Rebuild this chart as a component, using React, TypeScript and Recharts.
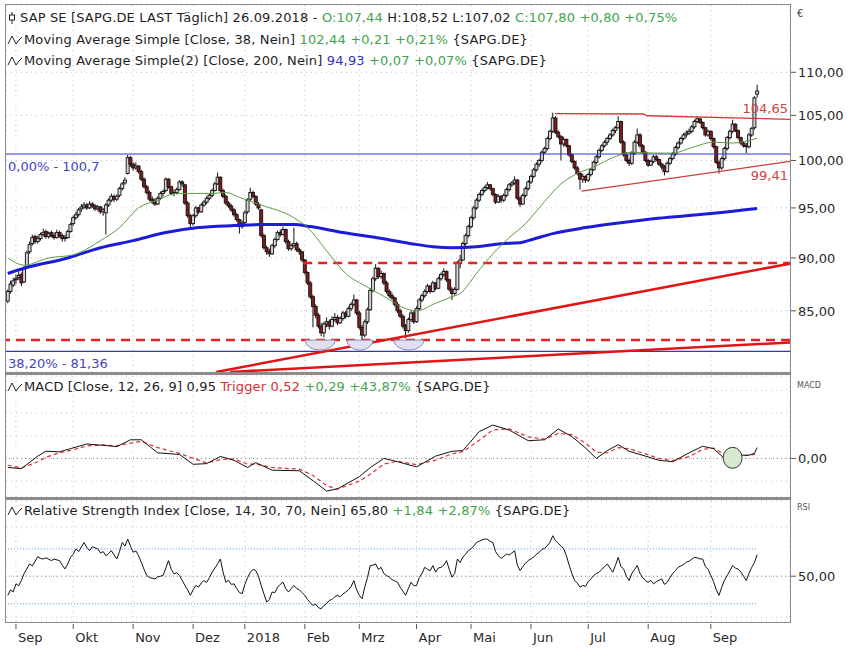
import React from "react";
import {
  ComposedChart,
  Bar,
  Line,
  XAxis,
  YAxis,
  CartesianGrid,
  ReferenceLine,
  ReferenceDot,
} from "recharts";

// daily candles [open, high, low, close], one array per month
const aug17 = [[85.9,87.0,85.7,86.8],[86.8,87.8,86.6,87.5],[87.4,88.1,87.2,87.8]];
const sep17 = [[87.9,88.4,87.5,88.0],[88.1,88.7,87.9,88.3],[88.4,88.6,87.3,87.6],[87.7,89.2,87.6,89.0],[89.1,90.7,89.0,90.5],[90.6,91.6,90.4,91.3],[91.4,92.3,91.2,92.0],[92.1,92.3,91.4,91.6],[91.6,92.2,91.4,91.9],[91.9,92.5,91.7,92.3],[92.3,92.9,92.1,92.5],[92.6,92.8,91.9,92.1],[92.1,92.6,91.9,92.4],[92.5,92.7,92.0,92.2],[92.2,92.5,91.8,92.0],[92.0,92.8,91.9,92.5],[92.5,92.7,92.0,92.2],[92.2,92.4,91.6,91.9],[91.9,92.3,91.6,92.0],[92.0,92.8,91.9,92.6],[92.6,93.5,92.5,93.3]];
const oct17 = [[93.4,94.2,93.2,94.0],[94.0,94.6,93.8,94.3],[94.3,95.0,94.1,94.8],[94.9,95.4,94.6,95.1],[95.1,95.6,94.9,95.3],[95.3,95.5,94.8,95.0],[95.0,95.7,94.9,95.4],[95.4,95.6,95.0,95.2],[95.2,95.4,94.7,94.9],[94.9,95.3,94.7,95.1],[95.1,95.2,94.4,94.6],[94.6,95.0,94.2,94.8],[94.5,95.5,92.3,95.3],[95.3,96.0,95.1,95.8],[95.8,96.5,95.6,96.2],[96.2,96.4,95.6,95.9],[95.9,96.4,95.7,96.2],[96.3,97.2,96.1,97.0],[97.0,97.7,96.8,97.5],[97.6,98.2,97.4,97.9],[98.6,100.6,98.5,100.3],[100.3,100.5,99.3,99.6]];
const nov17 = [[99.6,99.8,98.9,99.2],[99.2,99.8,99.0,99.4],[99.4,99.5,98.6,98.8],[98.8,99.0,97.8,98.0],[98.0,98.2,97.0,97.2],[97.2,97.4,96.4,96.6],[96.6,96.8,95.7,95.9],[95.9,96.2,95.4,95.7],[95.7,96.0,95.2,95.4],[95.4,96.2,95.3,96.0],[96.0,96.7,95.8,96.5],[96.5,96.9,96.2,96.7],[96.8,98.2,96.6,98.0],[98.0,98.1,97.0,97.2],[97.2,97.3,96.3,96.5],[96.5,96.9,96.2,96.6],[96.6,97.1,96.4,96.9],[96.9,97.9,96.8,97.7],[97.7,97.9,97.2,97.5],[97.4,97.5,95.3,95.5],[95.5,95.7,94.0,94.2],[94.2,94.4,92.9,93.4]];
const dec17 = [[93.4,94.4,93.2,94.2],[94.2,95.2,94.0,95.0],[95.0,95.1,94.4,94.6],[94.6,95.5,94.5,95.3],[95.3,95.8,95.1,95.6],[95.6,96.2,95.4,96.0],[96.0,96.5,95.8,96.3],[96.3,97.0,96.1,96.8],[96.8,97.7,96.7,97.5],[97.5,98.7,97.4,98.2],[98.2,98.3,96.6,96.8],[96.8,97.0,96.0,96.2],[96.2,96.4,95.3,95.5],[95.5,95.7,95.0,95.2],[95.2,95.4,94.6,94.8],[94.8,95.0,94.1,94.3],[94.3,94.5,93.6,93.8],[93.8,93.9,92.4,93.1],[93.1,93.7,92.9,93.4]];
const jan18 = [[93.5,94.7,93.3,94.5],[94.6,96.0,94.4,95.8],[95.9,97.1,95.7,96.6],[96.6,96.8,96.0,96.2],[96.2,96.3,95.2,95.4],[95.4,95.6,94.8,95.0],[94.8,94.9,92.0,92.2],[92.2,92.4,90.8,91.0],[91.0,91.2,90.3,90.6],[90.6,90.9,90.1,90.4],[90.4,91.4,90.3,91.2],[91.2,92.0,91.0,91.8],[91.8,92.7,91.7,92.5],[92.5,92.8,92.1,92.3],[92.3,93.1,92.2,92.8],[92.8,92.9,91.4,91.6],[91.6,91.8,90.7,90.9],[90.9,91.4,90.7,91.2],[91.2,93.0,91.0,91.4],[91.4,91.6,90.6,90.8],[90.8,91.0,90.3,90.6],[90.6,90.7,89.6,89.8]];
const feb18 = [[89.8,89.9,88.4,88.6],[88.6,88.7,87.4,87.6],[87.6,87.8,86.1,86.3],[86.3,86.5,83.5,85.4],[85.4,85.6,84.3,84.6],[84.6,84.8,83.4,83.6],[83.6,83.9,82.7,83.0],[83.0,84.0,82.6,83.8],[83.8,84.4,83.5,84.0],[84.0,84.2,83.3,83.6],[83.6,84.5,83.5,84.2],[84.2,84.8,84.0,84.4],[84.4,84.6,83.7,83.9],[83.9,84.5,83.8,84.3],[84.3,85.0,84.1,84.8],[84.8,85.0,84.3,84.5],[84.5,85.4,84.4,85.2],[85.2,85.8,85.0,85.6],[85.6,86.5,85.4,86.0],[86.0,86.1,84.6,84.8]];
const mar18 = [[84.8,85.0,83.3,83.5],[83.5,83.7,82.2,82.8],[82.8,84.2,82.6,84.0],[84.0,85.3,83.8,85.1],[85.1,87.1,85.0,86.9],[86.9,88.2,86.7,88.0],[88.0,89.4,87.8,89.0],[89.0,89.1,88.0,88.2],[88.2,88.8,88.0,88.5],[88.5,88.6,87.4,87.6],[87.6,87.8,86.6,86.8],[86.8,87.0,86.2,86.4],[86.4,86.7,86.0,86.2],[86.2,86.3,85.4,85.6],[85.6,85.8,84.8,85.0],[85.0,85.2,84.3,84.5],[84.5,84.7,83.4,83.6],[83.6,83.8,82.5,83.2],[83.2,84.4,83.0,84.2],[84.2,85.0,84.0,84.8],[84.8,85.0,83.8,84.0]];
const apr18 = [[84.0,85.4,83.9,85.2],[85.2,86.2,85.0,86.0],[86.0,86.6,85.8,86.4],[86.4,87.0,86.2,86.8],[86.8,87.5,86.6,87.3],[87.3,87.4,86.6,86.8],[86.8,87.8,86.7,87.6],[87.6,87.7,86.9,87.1],[87.1,88.2,87.0,88.0],[88.0,88.6,87.8,88.4],[88.4,89.0,88.2,88.7],[88.7,88.8,87.7,87.9],[87.9,88.0,86.8,87.0],[87.0,87.2,86.0,86.6],[86.6,87.2,86.4,87.0],[87.0,89.7,86.9,89.5],[89.5,90.3,89.0,89.8],[89.8,91.6,89.7,91.4],[91.4,92.4,91.2,92.2],[92.2,93.3,92.0,93.1]];
const may18 = [[93.1,94.2,92.9,94.0],[94.0,95.2,93.8,95.0],[95.0,96.0,94.8,95.8],[95.8,96.6,95.6,96.4],[96.4,97.0,96.2,96.8],[96.8,97.3,96.6,97.1],[97.1,97.7,96.9,97.4],[97.4,97.5,96.8,97.0],[97.0,97.1,96.2,96.4],[96.4,96.5,95.4,95.6],[95.6,96.4,95.5,96.2],[96.2,96.3,95.5,95.8],[95.8,96.5,95.6,96.3],[96.3,97.1,96.1,96.9],[96.9,97.6,96.7,97.4],[97.4,97.8,97.2,97.6],[97.6,98.3,97.4,97.9],[97.9,98.0,95.8,96.0],[96.0,96.2,95.1,95.4],[95.4,96.5,95.3,96.3],[96.3,97.2,96.1,97.0],[97.0,97.9,96.8,97.7]];
const jun18 = [[97.7,98.5,97.5,98.3],[98.3,99.2,98.1,99.0],[99.0,99.8,98.8,99.6],[99.6,100.2,99.3,100.0],[100.0,101.1,99.8,100.9],[100.9,101.5,100.7,101.3],[101.3,102.6,101.1,102.4],[102.4,103.4,102.2,103.2],[103.2,105.3,103.0,104.7],[104.7,104.9,102.9,103.1],[103.1,103.3,102.4,102.6],[102.6,102.8,100.0,101.8],[101.8,102.6,101.5,102.3],[102.3,102.4,101.4,101.6],[101.6,101.7,100.4,100.6],[100.6,100.8,99.7,99.9],[99.9,100.0,99.0,99.2],[99.2,99.4,98.4,98.6],[98.6,98.8,96.9,98.0],[98.0,98.6,97.6,98.3],[98.3,98.4,97.6,97.9]];
const jul18 = [[97.9,98.7,97.7,98.5],[98.5,99.2,98.3,99.0],[99.0,100.0,98.9,99.8],[99.8,100.6,99.6,100.4],[100.4,101.3,100.2,101.1],[101.1,101.8,100.9,101.6],[101.6,102.2,101.4,102.0],[102.0,102.6,101.7,102.4],[102.4,103.0,102.2,102.8],[102.8,103.5,102.6,103.3],[103.3,103.8,103.0,103.6],[103.6,104.9,103.5,104.3],[104.3,104.4,101.8,102.0],[102.0,102.2,100.4,100.6],[100.6,100.9,99.8,100.0],[100.0,100.2,99.4,99.7],[99.7,101.0,99.5,100.8],[100.8,102.2,100.6,102.0],[102.0,103.5,101.8,102.8],[102.8,103.0,101.4,101.6],[101.6,101.8,100.7,100.9],[100.9,101.0,99.8,100.0]];
const aug18 = [[100.0,100.2,99.3,99.5],[99.5,100.1,99.4,99.9],[99.9,100.6,99.7,100.4],[100.4,100.6,99.9,100.1],[100.1,100.2,99.4,99.6],[99.6,99.8,99.0,99.3],[99.3,99.5,98.4,98.8],[98.8,99.9,98.7,99.7],[99.7,100.4,99.5,100.2],[100.2,100.9,100.0,100.7],[100.7,101.6,100.5,101.4],[101.4,102.1,101.2,101.9],[101.9,102.6,101.7,102.4],[102.4,103.0,102.2,102.8],[102.8,103.3,102.5,103.0],[103.0,103.5,102.8,103.2],[103.2,103.9,103.0,103.7],[103.7,104.5,103.5,104.3],[104.3,104.9,104.1,104.6],[104.6,104.7,104.0,104.2],[104.2,104.3,103.4,103.6],[103.6,103.7,102.6,102.8],[102.8,103.4,102.6,103.2]];
const sep18 = [[103.2,103.3,102.2,102.4],[102.4,102.5,101.3,101.5],[101.5,101.6,99.6,99.8],[99.8,100.0,98.6,99.2],[99.2,100.4,99.0,100.2],[100.2,101.5,100.0,101.3],[101.3,102.7,101.1,102.5],[102.5,103.4,102.3,103.2],[103.2,104.5,103.0,104.0],[104.0,104.1,103.1,103.3],[103.3,103.4,102.3,102.5],[102.5,102.6,101.7,101.9],[101.9,102.1,101.4,101.6],[101.6,101.9,100.8,101.5],[101.5,103.0,101.3,102.8],[102.8,103.7,102.6,103.5],[103.6,107.2,103.4,107.0],[107.44,108.52,107.02,107.8]];

const candleMonths = [aug17, sep17, oct17, nov17, dec17, jan18, feb18, mar18, apr18, may18, jun18, jul18, aug18, sep18];
const monthLabels = ["Sep", "Okt", "Nov", "Dez", "2018", "Feb", "Mrz", "Apr", "Mai", "Jun", "Jul", "Aug", "Sep"];

// [day index, value]
const ma38 = [[0,90.0],[6,89.3],[15,90.0],[24,90.3],[34,91.7],[41,93.0],[48,95.0],[55,95.8],[62,96.5],[66,96.5],[75,96.5],[80,96.6],[85,96.1],[93,95.3],[105,94.0],[110,93.0],[117,90.7],[124,88.5],[132,87.2],[139,86.2],[145,85.3],[150,85.0],[157,85.7],[163,86.3],[166,86.6],[172,88.5],[178,90.4],[184,92.0],[190,93.4],[195,95.0],[203,97.5],[209,98.6],[215,99.3],[222,100.3],[229,100.9],[237,100.8],[244,100.8],[251,101.4],[259,102.0],[266,101.9],[275,102.44]];
const ma200 = [[0,88.5],[6,89.0],[22,90.0],[34,91.0],[46,91.7],[58,92.5],[70,93.0],[83,93.2],[93,93.3],[105,93.3],[111,93.1],[123,92.5],[135,92.0],[148,91.4],[156,91.1],[163,91.0],[172,91.1],[181,91.4],[188,91.5],[191,91.7],[200,92.4],[212,93.0],[225,93.5],[237,93.9],[249,94.2],[261,94.5],[275,94.93]];

const macd = [[0,-0.8],[5,-0.9],[11,0.2],[14,0.63],[19,0.58],[23,0.86],[29,1.27],[35,1.15],[40,1.04],[45,1.64],[49,1.64],[55,0.49],[63,0.35],[68,-0.52],[73,-0.46],[78,0.17],[83,-0.17],[88,-0.8],[91,-0.37],[97,-1.04],[107,-1.09],[112,-1.96],[117,-2.88],[121,-2.68],[129,-1.61],[133,-0.81],[138,0],[143,-0.29],[150,-0.75],[157,0.2],[163,0.63],[167,0.69],[173,2.36],[178,2.94],[184,2.5],[191,1.56],[197,1.64],[202,2.59],[207,1.93],[212,0.92],[216,0],[220,0.69],[224,1.21],[228,0.63],[234,0.2],[239,-0.17],[244,-0.29],[250,0.49],[255,1.07],[259,0.86],[263,0],[268,0.29],[272,0.28],[274,0.45],[275,0.95]];
const trigger = [[0,-0.6],[5,-0.85],[11,-0.3],[14,0.1],[19,0.5],[23,0.7],[29,1.1],[35,1.2],[40,1.1],[45,1.35],[49,1.5],[55,0.95],[63,0.45],[68,0.0],[73,-0.4],[78,-0.1],[83,-0.05],[88,-0.5],[91,-0.5],[97,-0.8],[107,-0.95],[112,-1.5],[117,-2.4],[121,-2.7],[129,-2.0],[133,-1.4],[138,-0.5],[143,-0.25],[150,-0.55],[157,-0.15],[163,0.4],[167,0.6],[173,1.6],[178,2.5],[184,2.6],[191,1.9],[197,1.7],[202,2.2],[207,2.1],[212,1.35],[216,0.55],[220,0.5],[224,0.95],[228,0.85],[234,0.4],[239,0.0],[244,-0.2],[250,0.15],[255,0.8],[259,0.9],[263,0.35],[268,0.2],[272,0.28],[274,0.35],[275,0.52]];

const rsi = [[0,36],[1,40],[2,38.5],[3,44.4],[4,43],[5,47],[6,52],[8,59],[9,57.5],[11,64.3],[12,63],[13,62.6],[14,63.5],[16,61.4],[17,62.5],[19,61.4],[20,58],[21,55.3],[22,59],[23,63.8],[24,66],[25,70],[26,68],[28,74.7],[29,71],[30,68.7],[31,71.5],[33,70],[34,67],[35,68],[36,65],[37,66.5],[38,68.7],[39,65.5],[40,62.6],[41,68],[42,74.7],[43,72],[44,77.2],[45,72],[46,67.5],[47,68.5],[48,65],[49,60],[50,55],[51,50.5],[52,49],[53,48.5],[54,48],[55,49.5],[56,50],[57,50.5],[58,56],[59,61.4],[60,55],[61,51.7],[62,52.5],[63,50.5],[64,47],[65,43.2],[66,40],[67,36],[68,40],[69,43.2],[70,42],[71,45],[72,46.8],[73,45.5],[74,49],[75,52.9],[76,56],[77,59],[78,62.6],[79,53],[80,45.6],[81,47],[82,44],[83,44.4],[84,41],[85,38],[86,37.2],[87,44],[88,49],[89,52.9],[90,55],[91,54.1],[92,50],[93,43.2],[94,37],[95,31.1],[96,33],[97,38.4],[98,38],[99,42],[100,44],[101,45.6],[102,41],[103,38.4],[104,41],[105,43.2],[106,41],[107,40],[108,38],[109,36],[110,33],[111,30.5],[112,28.7],[113,29.5],[114,27],[115,26.2],[116,28.5],[117,30],[118,32.3],[119,33],[120,35],[121,36],[122,35],[123,37],[124,38.4],[125,40],[126,42.5],[127,46.8],[128,40],[129,36],[130,33.5],[131,42],[132,49],[133,57.8],[134,58],[135,59],[136,55],[137,56.5],[138,52],[139,50.5],[140,49.3],[141,47.5],[142,46.5],[143,45.6],[144,42],[145,39],[146,36],[147,41],[148,45.6],[149,43],[150,43.2],[151,49],[152,52],[153,56.5],[154,55],[155,54],[156,57.8],[157,53],[158,56],[159,56.5],[160,58],[161,61.4],[162,55],[163,49.3],[164,52],[165,62.6],[166,60],[167,64],[168,66],[169,68.7],[170,70],[171,72],[172,74.7],[173,75.5],[174,76.5],[175,77.2],[176,77],[177,75.5],[178,74.7],[179,68],[180,65],[181,63],[182,64.5],[183,66.2],[184,65.5],[185,67],[186,68.7],[187,58],[188,54.1],[189,57],[190,59.5],[191,61.5],[192,62.6],[193,64],[194,66],[195,67.5],[196,69.5],[197,70.5],[198,72.3],[199,75],[200,79.6],[201,76],[202,74],[203,72.3],[204,70],[205,65],[206,58],[207,52],[208,46.8],[209,45],[210,42],[211,43.2],[212,42.5],[213,46],[214,48],[215,50.5],[216,52],[217,52.9],[218,55],[219,57],[220,59],[221,56],[222,52.9],[223,58],[224,63.8],[225,57],[226,55.3],[227,50],[228,46.8],[229,52],[230,55],[231,57.8],[232,52],[233,49],[234,46.8],[235,45.5],[236,47],[237,44.4],[238,46],[239,47],[240,48],[241,44],[242,45.6],[243,49],[244,52],[245,54],[246,56.5],[247,57.5],[248,58.5],[249,60.2],[250,61],[251,62.5],[252,63.8],[253,63.5],[254,62.6],[255,62.6],[256,57],[257,55],[258,50.5],[259,46],[260,40],[261,36],[262,42],[263,47],[264,50.5],[265,54],[266,57.8],[267,56],[268,55.3],[269,53],[270,50],[271,46.8],[272,52],[273,56.5],[274,60],[275,65.8]];

// drawn lines: [day index, price]
const fibHigh = 100.7;
const fibLow = 81.36;
const supportDashLow = 82.35;
const supportDashHigh = [[108.4, 89.5], [287.05, 89.5]];
const trendUpper = [[76.4, 79.56], [287.05, 89.45]];
const trendLower = [[81.5, 79.56], [287.05, 82.14]];
const resistance = [[200.8, 105.2], [233.3, 105.15], [234.5, 104.95], [287.05, 104.55]];
const support = [[210.5, 96.75], [287.05, 99.9]];
const bottoms = [[114.6, 82.35], [129.2, 82.35], [147.2, 82.35]];
const macdMark = [266, 0.05];

const X_DOMAIN: [number, number] = [-0.66, 287.05];
const FONT = "'DejaVu Sans', Verdana, sans-serif";
const FS = 13;
const GREEN = "#3fa34d";
const GRID = "#c4c4c4";

const candles = candleMonths.flat().map(([o, h, l, c], i) => ({ i, o, h, l, c }));
const monthTicks: number[] = [];
candleMonths.reduce((start, m, k) => {
  if (k > 0) monthTicks.push(start);
  return start + m.length;
}, 0);

const pts = (arr: number[][]) => arr.map(([i, v]) => ({ i, v }));
const fmt = (v: number) => v.toFixed(2).replace(".", ",");

function Candle(props: any) {
  const { x, y, width, height, payload } = props;
  if (x == null || !payload) return null;
  const { o, h, l, c } = payload;
  const top = Math.min(y, y + height);
  const hh = Math.abs(height);
  const cx = x + width / 2;
  const span = Math.log(h) - Math.log(l);
  const py = (v: number) => (span > 0 ? top + (hh * (Math.log(h) - Math.log(v))) / span : top);
  const up = c >= o;
  const bTop = py(Math.max(o, c));
  const bBot = py(Math.min(o, c));
  return (
    <g>
      <line x1={cx} x2={cx} y1={top} y2={top + hh} stroke="#111" strokeWidth={1} />
      <rect
        x={cx - 1.5}
        y={bTop}
        width={3}
        height={Math.max(bBot - bTop, 1)}
        fill={up ? "#d4d4d4" : "#861a1a"}
        stroke="#111"
        strokeWidth={0.9}
      />
    </g>
  );
}

function YTick({ x, y, payload, labels }: any) {
  if (labels && !labels.includes(payload.value)) return null;
  return (
    <g>
      <line x1={x + 1} x2={x + 6} y1={y} y2={y} stroke="#555" />
      <text x={x + 8} y={y + 5} fontSize={FS} fontFamily={FONT} fill="#2a2a2a">
        {fmt(payload.value)}
      </text>
    </g>
  );
}

function MonthTick({ x, y, payload }: any) {
  const label = monthLabels[monthTicks.indexOf(payload.value)];
  return (
    <g>
      <line x1={x} x2={x} y1={y + 2} y2={y + 7} stroke="#555" />
      <text x={x + 2} y={y + 20} fontSize={FS} fontFamily={FONT} fill="#2a2a2a">
        {label}
      </text>
    </g>
  );
}

const halfEllipse = (rx: number) => (p: any) => (
  <path
    d={`M${p.cx - rx},${p.cy} A${rx},10 0 0 0 ${p.cx + rx},${p.cy} Z`}
    fill="#dfe1f3"
    stroke="#8c8cb0"
    strokeWidth={1}
  />
);

const textAt = (txt: string, color: string, dx: number, dy: number, anchor: "start" | "end") => (p: any) => (
  <text x={p.cx + dx} y={p.cy + dy} textAnchor={anchor} fontSize={FS} fontFamily={FONT} fill={color}>
    {txt}
  </text>
);

function CandleIcon() {
  return (
    <svg width={10} height={14} style={{ marginRight: 3 }}>
      <line x1={5} x2={5} y1={1} y2={13} stroke="#222" />
      <rect x={2.5} y={4} width={5} height={5} fill="#fff" stroke="#222" />
    </svg>
  );
}

function WaveIcon() {
  return (
    <svg width={16} height={12} style={{ marginRight: 1 }}>
      <polyline points="1,10 5,2 9,10 12,6 15,3" fill="none" stroke="#222" strokeWidth={1} />
    </svg>
  );
}

function Row({ top, icon, children }: { top: number; icon: React.ReactNode; children: React.ReactNode }) {
  return (
    <div
      style={{
        position: "absolute",
        left: 7,
        top,
        height: 16,
        lineHeight: "16px",
        fontSize: FS,
        letterSpacing: 0.15,
        fontFamily: FONT,
        color: "#1e1e1e",
        whiteSpace: "nowrap",
        display: "flex",
        alignItems: "center",
      }}
    >
      {icon}
      <span>{children}</span>
    </div>
  );
}

const G = ({ children }: { children: React.ReactNode }) => <span style={{ color: GREEN }}>{children}</span>;

const paneBox = (top: number, height: number): React.CSSProperties => ({
  position: "absolute",
  left: 5,
  top,
  width: 786,
  height,
  boxSizing: "border-box",
  border: "1px solid #8c8c8c",
  pointerEvents: "none",
});

export default function App() {
  return (
    <div style={{ position: "absolute", left: 0, top: 0, width: 850, height: 661, background: "#fff", overflow: "hidden" }}>
      {/* price pane */}
      <div style={{ position: "absolute", left: 0, top: 0 }}>
        <ComposedChart width={850} height={373} data={candles} margin={{ top: 5, right: 0, bottom: 1, left: 6 }}>
          <CartesianGrid stroke={GRID} strokeDasharray="1 4" />
          <XAxis dataKey="i" type="number" domain={X_DOMAIN} ticks={monthTicks} allowDataOverflow hide />
          <YAxis
            orientation="right"
            width={60}
            scale="log"
            domain={[79.56, 118.3]}
            allowDataOverflow
            ticks={[85, 90, 95, 100, 105, 110]}
            interval={0}
            axisLine={false}
            tickLine={false}
            tickSize={0}
            tickMargin={0}
            tick={<YTick />}
          />
          <ReferenceLine y={fibHigh} stroke="#3434cc" strokeWidth={1.2} />
          <ReferenceLine y={fibLow} stroke="#3434cc" strokeWidth={1.2} />
          <ReferenceLine y={supportDashLow} stroke="#e32222" strokeWidth={2.5} strokeDasharray="9 6" />
          <Line data={pts(supportDashHigh)} dataKey="v" stroke="#e32222" strokeWidth={2.5} strokeDasharray="9 6" dot={false} isAnimationActive={false} />
          <Line data={pts(trendUpper)} dataKey="v" stroke="#e01616" strokeWidth={2.5} dot={false} isAnimationActive={false} />
          <Line data={pts(trendLower)} dataKey="v" stroke="#e01616" strokeWidth={2.5} dot={false} isAnimationActive={false} />
          {bottoms.map(([i, v], k) => (
            <ReferenceDot key={k} x={i} y={v} r={1} ifOverflow="visible" shape={halfEllipse(k === 1 ? 13 : 15)} />
          ))}
          <Line data={pts(ma200)} dataKey="v" type="monotone" stroke="#1c1cd8" strokeWidth={3} dot={false} isAnimationActive={false} />
          <Line data={pts(ma38)} dataKey="v" type="monotone" stroke="#5d9c45" strokeWidth={1} dot={false} isAnimationActive={false} />
          <Bar dataKey={(d: any) => [d.l, d.h]} barSize={3} shape={<Candle />} isAnimationActive={false} />
          <Line data={pts(resistance)} dataKey="v" stroke="#cc3c3c" strokeWidth={1.3} dot={false} isAnimationActive={false} />
          <Line data={pts(support)} dataKey="v" stroke="#cc3c3c" strokeWidth={1.3} dot={false} isAnimationActive={false} />
          <ReferenceDot x={X_DOMAIN[0]} y={fibHigh} r={1} ifOverflow="visible" shape={textAt("0,00% - 100,7", "#4444c4", 2, 17, "start")} />
          <ReferenceDot x={X_DOMAIN[0]} y={fibLow} r={1} ifOverflow="visible" shape={textAt("38,20% - 81,36", "#4444c4", 2, 17, "start")} />
          <ReferenceDot x={X_DOMAIN[1]} y={104.55} r={1} ifOverflow="visible" shape={textAt("104,65", "#cc4444", -2, -6, "end")} />
          <ReferenceDot x={X_DOMAIN[1]} y={99.9} r={1} ifOverflow="visible" shape={textAt("99,41", "#cc4444", -2, 19, "end")} />
        </ComposedChart>
      </div>

      {/* MACD pane */}
      <div style={{ position: "absolute", left: 0, top: 374 }}>
        <ComposedChart width={850} height={124} data={pts(macd)} margin={{ top: 2, right: 0, bottom: 1, left: 6 }}>
          <CartesianGrid stroke={GRID} strokeDasharray="1 4" />
          <XAxis dataKey="i" type="number" domain={X_DOMAIN} ticks={monthTicks} allowDataOverflow hide />
          <YAxis
            orientation="right"
            width={60}
            domain={[-3.4, 7.26]}
            allowDataOverflow
            ticks={[-2, 0, 2, 4, 6]}
            interval={0}
            axisLine={false}
            tickLine={false}
            tickSize={0}
            tickMargin={0}
            tick={<YTick labels={[0]} />}
          />
          <ReferenceLine y={0} stroke="#8a8a8a" strokeDasharray="1 3" />
          <ReferenceDot
            x={macdMark[0]}
            y={macdMark[1]}
            r={1}
            ifOverflow="visible"
            shape={(p: any) => <ellipse cx={p.cx} cy={p.cy} rx={9.5} ry={10.5} fill="#d6e9cf" stroke="#333" strokeWidth={1} />}
          />
          <Line data={pts(trigger)} dataKey="v" stroke="#d83434" strokeWidth={1.2} strokeDasharray="4 3" dot={false} isAnimationActive={false} />
          <Line dataKey="v" stroke="#111" strokeWidth={1} dot={false} isAnimationActive={false} />
        </ComposedChart>
      </div>

      {/* RSI pane */}
      <div style={{ position: "absolute", left: 0, top: 499 }}>
        <ComposedChart width={850} height={162} data={pts(rsi)} margin={{ top: 2, right: 0, bottom: 0, left: 6 }}>
          <CartesianGrid stroke={GRID} strokeDasharray="1 4" />
          <XAxis
            dataKey="i"
            type="number"
            domain={X_DOMAIN}
            ticks={monthTicks}
            allowDataOverflow
            height={39}
            axisLine={false}
            tickLine={false}
            tickSize={0}
            tickMargin={0}
            tick={<MonthTick />}
            interval={0}
          />
          <YAxis
            orientation="right"
            width={60}
            domain={[16.5, 105]}
            allowDataOverflow
            ticks={[20, 50, 86]}
            interval={0}
            axisLine={false}
            tickLine={false}
            tickSize={0}
            tickMargin={0}
            tick={<YTick labels={[50]} />}
          />
          <ReferenceLine y={50} stroke="#8a8a8a" strokeDasharray="1 3" />
          <ReferenceLine segment={[{ x: 0, y: 70 }, { x: 275, y: 70 }]} stroke="#74a9e0" strokeWidth={1.2} strokeDasharray="1 2" />
          <ReferenceLine segment={[{ x: 0, y: 30 }, { x: 275, y: 30 }]} stroke="#74a9e0" strokeWidth={1.2} strokeDasharray="1 2" />
          <Line dataKey="v" stroke="#111" strokeWidth={1} dot={false} isAnimationActive={false} />
        </ComposedChart>
      </div>

      {/* pane frames */}
      <div style={paneBox(4, 369)} />
      <div style={paneBox(374, 124)} />
      <div style={paneBox(499, 124)} />
      <div style={{ position: "absolute", left: 5, top: 372, width: 786, height: 3, background: "#8c8c8c" }} />
      <div style={{ position: "absolute", left: 5, top: 497, width: 786, height: 3, background: "#8c8c8c" }} />

      {/* headers */}
      <Row top={10} icon={<CandleIcon />}>
        SAP SE [SAPG.DE LAST Täglich] 26.09.2018 - <G>O:107,44</G> H:108,52 L:107,02 <G>C:107,80 +0,80 +0,75%</G>
      </Row>
      <Row top={32} icon={<WaveIcon />}>
        Moving Average Simple [Close, 38, Nein] <G>102,44 +0,21 +0,21%</G> {"{SAPG.DE}"}
      </Row>
      <Row top={53} icon={<WaveIcon />}>
        Moving Average Simple(2) [Close, 200, Nein] <span style={{ color: "#3232c8" }}>94,93</span> <G>+0,07 +0,07%</G> {"{SAPG.DE}"}
      </Row>
      <Row top={379} icon={<WaveIcon />}>
        MACD [Close, 12, 26, 9] 0,95 <span style={{ color: "#d43030" }}>Trigger 0,52</span> <G>+0,29 +43,87%</G> {"{SAPG.DE}"}
      </Row>
      <Row top={503} icon={<WaveIcon />}>
        Relative Strength Index [Close, 14, 30, 70, Nein] 65,80 <G>+1,84 +2,87%</G> {"{SAPG.DE}"}
      </Row>

      {/* right-side pane captions */}
      <div style={{ position: "absolute", left: 797, top: 8, fontSize: 10, fontFamily: FONT, color: "#333" }}>€</div>
      <div style={{ position: "absolute", left: 797, top: 381, fontSize: 8, fontFamily: FONT, color: "#555" }}>MACD</div>
      <div style={{ position: "absolute", left: 797, top: 503, fontSize: 8, fontFamily: FONT, color: "#555" }}>RSI</div>
    </div>
  );
}
